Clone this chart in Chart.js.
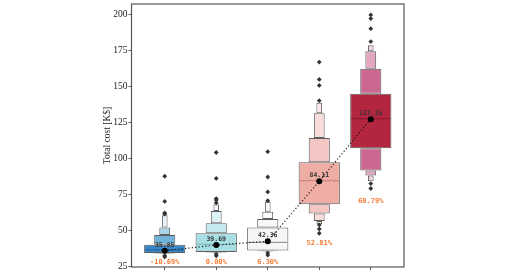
<!DOCTYPE html>
<html><head><meta charset="utf-8">
<script src="https://cdn.jsdelivr.net/npm/chart.js@4.4.1/dist/chart.umd.min.js"></script>
<style>html,body{margin:0;padding:0;background:#fff;overflow:hidden}</style>
</head><body>
<canvas id="c" width="509" height="271"></canvas>
<script>
// ---- data ----
const categories = ['Case 1', 'Case 2', 'Case 3', 'Case 4', 'Case 5'];
const means = [35.85, 39.69, 42.36, 84.11, 127.15];
const medians = [36.4, 40.2, 41.6, 84.4, 127.4];
const pctLabels = ['-10.69%', '0.00%', '6.30%', '52.81%', '68.79%'];
const pctLabelAt = [27.7, 27.7, 27.7, 41.0, 70.5];
// letter values (upper side: q75, q87.5, q93.75, q96.9 ; lower side: q25, q12.5, q6.25, q3.1)
const upperLV = [
  [39.9, 46.8, 51.9, 60.5],
  [47.9, 54.8, 63.3, 67.9],
  [51.9, 57.8, 62.9, 69.8],
  [97.3, 114.0, 131.3, 138.6],
  [144.8, 162.1, 174.3, 178.4]
];
const lowerLV = [
  [34.2, 33.9, 33.6, 33.4],
  [35.0, 34.6, 34.3, 34.0],
  [36.0, 35.6, 35.2, 34.9],
  [68.1, 61.7, 56.4, 54.1],
  [107.0, 91.5, 88.1, 84.0]
];
const outliers = [
  [87.5, 70.0, 62.0, 61.3, 32.3, 31.5],
  [104.0, 86.0, 72.0, 71.0, 69.0, 33.5, 32.3],
  [104.6, 87.0, 76.6, 70.5, 34.2, 32.8],
  [166.8, 154.7, 150.6, 140.0, 53.7, 50.9, 47.9],
  [199.5, 197.0, 190.0, 181.0, 82.4, 79.0]
];
const yTicks = [25, 50, 75, 100, 125, 150, 175, 200];

// ---- styles ----
const levelWidths = [0.8, 0.41, 0.21, 0.11];
const boxColors = [
  ['#3a88c9', '#6fb3da', '#a9d4e8', '#e6f2f8'],
  ['#a7dfe3', '#c6ebee', '#ddf3f5', '#eff9fa'],
  ['#f5f7f7', '#f7f8f8', '#f9fafa', '#fcfcfc'],
  ['#eeada5', '#f4c6c3', '#f8dbdb', '#fbe9ea'],
  ['#b4253f', '#cb6790', '#e2a6c0', '#f1d3df']
];
const medianColors = ['#23669e', '#7fb9bf', '#9a9a9a', '#c57f77', '#85182e'];
const edge = '#5e5e5e';

const datasets = [];
datasets.push({
  type: 'line', order: 0,
  data: means.map((m, i) => ({x: i, y: m})),
  borderColor: '#111', borderWidth: 1.1, borderDash: [1.2, 2.2],
  pointRadius: 3, pointBackgroundColor: '#000', pointBorderWidth: 0, tension: 0, fill: false
});
datasets.push({
  type: 'scatter', order: 1,
  data: outliers.flatMap((arr, i) => arr.map(v => ({x: i, y: v}))),
  pointStyle: 'rectRot', pointRadius: 2.4, pointBackgroundColor: '#333', pointBorderWidth: 0
});
datasets.push({
  type: 'scatter', order: 2,
  data: medians.map((m, i) => ({x: i, y: m})),
  pointStyle: 'line',
  pointRadius: ctx => { const xs = ctx.chart.scales.x; return xs.getPixelForValue(levelWidths[0] / 2) - xs.getPixelForValue(0) - 1; },
  pointBorderColor: medianColors, pointBorderWidth: 1.1
});
for (let k = 0; k < levelWidths.length; k++) {
  const common = {
    type: 'bar', order: 3 + k,
    barPercentage: levelWidths[k], categoryPercentage: 1,
    backgroundColor: boxColors.map(c => c[k]),
    borderColor: edge, borderWidth: 1, borderSkipped: false
  };
  datasets.push(Object.assign({}, common, {
    data: categories.map((c, i) => ({x: i, y: k === 0 ? [lowerLV[i][0], upperLV[i][0]] : [upperLV[i][k - 1], upperLV[i][k]]}))
  }));
  if (k > 0) {
    datasets.push(Object.assign({}, common, {
      data: categories.map((c, i) => ({x: i, y: [lowerLV[i][k], lowerLV[i][k - 1]]}))
    }));
  }
}

const annot = {
  id: 'annot',
  afterDraw(chart) {
    const {ctx, scales: {x, y}, chartArea: a} = chart;
    ctx.save();
    ctx.textAlign = 'center'; ctx.textBaseline = 'middle';
    ctx.font = 'bold 6.5px "DejaVu Sans Mono"';
    ctx.fillStyle = '#333';
    means.forEach((m, i) => ctx.fillText(m.toFixed(2), x.getPixelForValue(i), y.getPixelForValue(m) - 5.5));
    ctx.font = 'bold 7px "DejaVu Sans Mono"';
    ctx.fillStyle = '#f47d36';
    pctLabels.forEach((t, i) => ctx.fillText(t, x.getPixelForValue(i), y.getPixelForValue(pctLabelAt[i])));
    ctx.strokeStyle = '#555'; ctx.lineWidth = 1.2;
    ctx.strokeRect(a.left, a.top, a.right - a.left, a.bottom - a.top);
    ctx.restore();
  }
};

new Chart(document.getElementById('c'), {
  type: 'bar',
  data: {datasets},
  plugins: [annot],
  options: {
    responsive: false, animation: false, devicePixelRatio: 1, events: [],
    layout: {padding: {left: 0, right: 105, top: 4, bottom: 0}},
    plugins: {legend: {display: false}, tooltip: {enabled: false}},
    scales: {
      x: {
        type: 'linear', min: -0.645, max: 4.645, stacked: true, offset: false,
        afterBuildTicks: s => { s.ticks = categories.map((c, i) => ({value: i})); },
        afterFit: s => { s.height = 2; s.paddingLeft = 0; s.paddingRight = 0; },
        ticks: {display: false},
        grid: {offset: false, drawOnChartArea: false, drawTicks: true, tickLength: 3, color: '#555'},
        border: {display: false}
      },
      y: {
        type: 'linear', min: 24.5, max: 207.1, stacked: false,
        afterBuildTicks: s => { s.ticks = yTicks.map(v => ({value: v})); },
        afterFit: s => { s.width = 131.5; s.paddingTop = 0; s.paddingBottom = 0; },
        ticks: {font: {family: '"Liberation Serif"', size: 9.5}, color: '#222', padding: 1},
        grid: {drawOnChartArea: false, drawTicks: true, tickLength: 3, color: '#555'},
        border: {display: false},
        title: {display: true, text: 'Total cost [K$]', font: {family: '"Liberation Serif"', size: 9.5}, color: '#222', padding: {top: 101.3, bottom: 0}}
      }
    }
  }
});
</script>
</body></html>
